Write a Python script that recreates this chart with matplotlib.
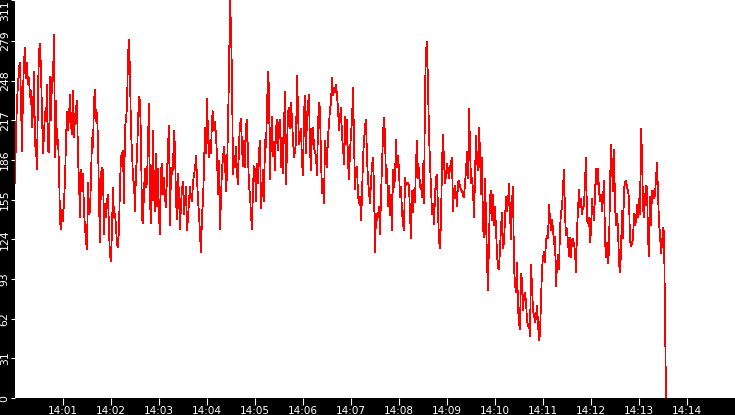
import numpy as np ; import pandas as pd
import matplotlib
matplotlib.use('Agg')
import matplotlib.pyplot as plt ; import matplotlib.dates as mdates

#################################### donnees ####################################
# une mesure toutes les 1.25 s a partir de 14:00:00, decoupee en morceaux d'environ 2 minutes

seg1 = [168,206,232,245,258,262,232,193,240,262,
        274,250,262,245,250,235,240,212,224,255,
        198,195,179,240,271,277,255,224,191,206,
        224,216,245,193,192,251,217,250,250,284,
        188,232,198,202,181,138,132,147,138,154,
        170,201,224,209,219,237,214,206,240,204,
        220,227,232,187,170,141,178,162,175,146,
        133,123,116,168,144,146,172,203,196,232,
        241,216,223,201,154,122,175,180,177,128,
        152,141,154,159,131,111,107,133,164,141,
        144,134,120,118,132,167,189,191,193]

seg2 = [152,211,218,227,268,280,253,207,193,171,
        168,146,178,188,216,235,232,201,140,137,
        162,179,165,168,201,230,154,137,165,209,
        159,146,191,150,179,141,128,178,183,159,
        172,157,149,175,196,213,135,180,175,180,
        209,195,154,140,175,158,132,152,163,169,
        144,154,165,131,141,154,165,157,154,168,
        175,179,189,172,155,144,128,114,143,154,
        180,211,191,234,206,188,201,191,219,224,
        209,216,205,189,159,185,132,157,179,188,
        196,185,162,175,216,254,311,289,250,175]

seg3 = [189,180,196,175,167,198,214,218,196,181,
        201,180,213,217,189,166,159,143,132,166,
        181,178,154,183,168,192,201,148,163,178,
        154,202,196,226,255,241,171,206,220,189,
        200,178,211,217,194,214,217,180,203,176,
        213,239,167,194,223,227,211,231,217,202,
        188,193,200,252,226,198,205,210,184,174,
        223,236,191,220,230,237,194,178,210,211,
        196,192,189,174,213,231,226,186,160,171,
        152,201,193,180,205,214,226,230,250,237,
        242,239,245,236,227,209,219,227,204,196]

seg4 = [183,220,198,217,184,171,193,206,217,242,
        202,163,180,181,158,152,157,139,157,188,
        201,213,217,188,170,161,152,170,181,188,
        165,114,144,139,143,149,128,158,181,206,
        219,206,168,179,150,166,143,159,131,178,
        165,172,202,180,189,178,157,165,145,136,
        131,172,166,168,168,166,143,125,162,145,
        163,153,184,201,172,180,165,166,157,183,
        152,240,271,278,244,206,184,165,144,152,
        136,158,172,174,146,123,117,139,183,206,
        185,168,174,183,178,172,180,184,188,146]

seg5 = [162,166,159,150,168,170,165,163,162,158,
        157,167,178,192,172,226,198,168,172,162,
        141,172,205,185,178,211,193,159,188,133,
        126,171,141,107,84,124,157,162,139,159,
        135,149,133,112,102,101,117,133,145,117,
        122,139,157,146,153,167,144,124,154,165,
        102,89,83,106,71,58,54,97,92,69,
        80,82,75,61,56,58,48,104,87,68,
        65,59,63,72,58,45,50,75,101,110,
        114,106,123,127,125,151,140,131,139,132,
        120,126,87,105,112,101,131,146,148,165]

seg6 = [178,144,127,132,121,111,125,110,123,124,
        120,115,98,132,146,163,149,156,144,149,
        150,170,188,139,137,141,122,130,156,146,
        139,159,179,167,179,162,154,159,146,156,
        170,123,110,121,105,115,165,198,179,162,
        194,151,135,144,132,106,98,115,146,125,
        163,168,170,165,162,156,123,119,121,124,
        144,135,139,151,141,156,144,210,191,149,
        141,156,166,165,126,111,157,135,162,162,
        156,159,171,184,161,137,128,113,120,133,
        130,62,0]

y_ticks = [0, 31, 62, 93, 124, 155, 186, 217, 248, 279, 311]
x_tick_minutes = ['14:01','14:02','14:03','14:04','14:05','14:06','14:07',
                  '14:08','14:09','14:10','14:11','14:12','14:13','14:14']

day = '2021-03-15'
values = seg1 + seg2 + seg3 + seg4 + seg5 + seg6
start = pd.Timestamp(day + ' 14:00:00')
times = pd.date_range(start, periods=len(values), freq='1250ms')
x_ticks = [pd.Timestamp(day + ' ' + m) for m in x_tick_minutes]

################################################### graphique #################################################

fig = plt.figure(figsize=(7.35, 4.15), dpi=100, facecolor='black')
ax = fig.add_axes([15/735, 17/415, 720/735, 398/415])
ax.set_facecolor('white')
for s in ax.spines.values(): s.set_visible(False)

ax.plot(times, values, color='#ff0000', lw=0.55, antialiased=False)

ax.set_xlim(start, start + pd.Timedelta(minutes=15)) ; ax.set_ylim(0, 311)
ax.set_xticks(x_ticks) ; ax.xaxis.set_major_formatter(mdates.DateFormatter('%H:%M'))
ax.set_yticks(y_ticks) ; ax.set_yticklabels([str(v) for v in y_ticks])

ax.tick_params(axis='x', colors='white', length=5, width=0.8, pad=0.5, labelsize=7.5)
ax.tick_params(axis='y', colors='white', length=3, width=0.8, pad=0.8, labelsize=7.8, labelrotation=90)
for lab in ax.get_yticklabels(): lab.set_va('center')
ax.get_yticklabels()[-1].set_va('top')

fig.savefig('out.png', dpi=100, facecolor='black')
